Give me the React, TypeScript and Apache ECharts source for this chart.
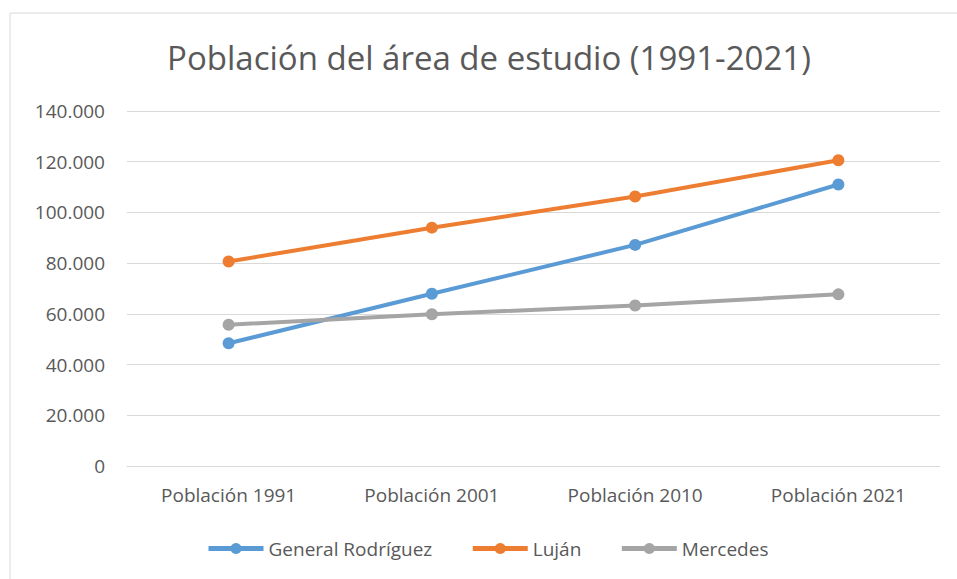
import React, { useEffect, useRef } from "react";
import * as echarts from "echarts";

const categories = ["Población 1991", "Población 2001", "Población 2010", "Población 2021"];
const generalRodriguez = [48383, 67931, 87185, 111000];
const lujan = [80645, 93992, 106273, 120600];
const mercedes = [55685, 59870, 63284, 67700];
const seriesNames = ["General Rodríguez", "Luján", "Mercedes"];
const colors = ["#5B9BD5", "#ED7D31", "#A5A5A5"];

const FONT = "'Open Sans', sans-serif";

export default function App() {
  const ref = useRef<HTMLDivElement>(null);
  useEffect(() => {
    const chart = echarts.init(ref.current!, null, { renderer: "svg" });
    const mk = (name: string, data: number[], color: string) => ({
      name,
      type: "line",
      data,
      symbol: "circle",
      symbolSize: 12,
      lineStyle: { width: 4, color },
      itemStyle: { color },
    });
    chart.setOption({
      animation: false,
      backgroundColor: "#ffffff",
      color: colors,
      title: {
        text: "Población del área de estudio (1991-2021)",
        left: 484,
        textAlign: "center",
        top: 36,
        textStyle: { fontFamily: FONT, fontSize: 33, fontWeight: "normal", color: "#595959" },
      },
      graphic: [
        {
          type: "rect",
          shape: { x: 10, y: 13, width: 1000, height: 1000 },
          style: { fill: "none", stroke: "#d9d9d9", lineWidth: 1 },
          silent: true,
        },
      ],
      legend: {
        data: seriesNames,
        bottom: 16,
        left: 201,
        itemWidth: 55,
        itemHeight: 14,
        itemGap: 38,
        lineStyle: { width: 5 },
        textStyle: { fontFamily: FONT, fontSize: 19, color: "#595959" },
      },
      grid: { left: 127, right: 17, top: 111, bottom: 113, containLabel: false },
      xAxis: {
        type: "category",
        data: categories,
        boundaryGap: true,
        axisLine: { lineStyle: { color: "#d9d9d9" } },
        axisTick: { show: false },
        axisLabel: { fontFamily: FONT, fontSize: 19, color: "#595959", margin: 19 },
      },
      yAxis: {
        type: "value",
        min: 0,
        max: 140000,
        interval: 20000,
        axisLine: { show: false },
        axisTick: { show: false },
        splitLine: { lineStyle: { color: "#d9d9d9" } },
        axisLabel: {
          fontFamily: FONT,
          fontSize: 19,
          color: "#595959",
          margin: 22,
          formatter: (v: number) => String(v).replace(/\B(?=(\d{3})+(?!\d))/g, "."),
        },
      },
      series: [
        mk(seriesNames[0], generalRodriguez, colors[0]),
        mk(seriesNames[1], lujan, colors[1]),
        mk(seriesNames[2], mercedes, colors[2]),
      ],
    });
    return () => chart.dispose();
  }, []);
  return (
    <div
      ref={ref}
      style={{ position: "fixed", left: 0, top: 0, width: 957, height: 579 }}
    />
  );
}
